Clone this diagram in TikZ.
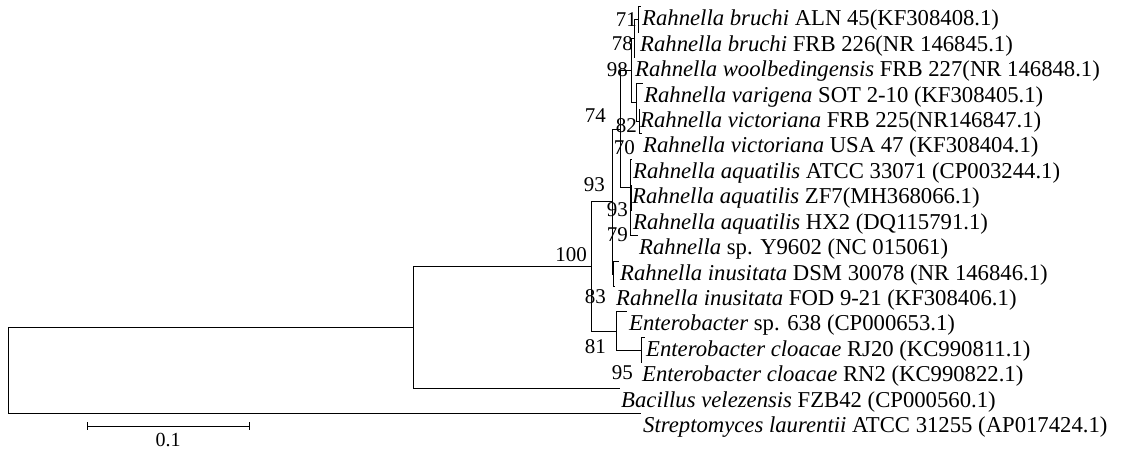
\documentclass[tikz,border=0pt]{standalone}
\usepackage{fontspec}
\setmainfont{Liberation Serif}
\begin{document}
\begin{tikzpicture}[x=1pt,y=-1pt,
  br/.style={line width=1pt},
  leaf/.style={anchor=base west,inner sep=0pt,font=\fontsize{22.7}{25}\selectfont},
  bs/.style={anchor=base east,inner sep=0pt,font=\fontsize{21}{23}\selectfont}]
\useasboundingbox (0,0) rectangle (1124,449);
% internal nodes
\coordinate (root) at (8,370.3);
\coordinate (X) at (413,327.2);
\coordinate (Y) at (591,266.3);
\coordinate (Z) at (612,201.6);
\coordinate (W) at (620,129.3);
\coordinate (n98) at (631,70.5);
\coordinate (n78) at (634,38.8);
\coordinate (n71) at (638,19.7);
\coordinate (nVar) at (636,102.3);
\coordinate (n82) at (639,121.3);
\coordinate (nP) at (630,188);
\coordinate (nQ) at (630.5,216.6);
\coordinate (nR) at (631,197.5);
\coordinate (nV) at (613.5,274);
\coordinate (E) at (616,331);
\coordinate (F) at (641,350);
% leaf line ends
\coordinate (e1) at (641,7);
\coordinate (e2) at (639,32.4);
\coordinate (e3) at (634,57.8);
\coordinate (e4) at (643,83.2);
\coordinate (e5) at (639,108.6);
\coordinate (e6) at (642,134);
\coordinate (e7) at (632,159.4);
\coordinate (e8) at (631,184.8);
\coordinate (e9) at (632,210.2);
\coordinate (e10) at (638,235.6);
\coordinate (e11) at (619,261);
\coordinate (e12) at (615,286.4);
\coordinate (e13) at (627,311.8);
\coordinate (e14) at (645,337.2);
\coordinate (e15) at (641,362.6);
\coordinate (e16) at (620,388);
\coordinate (e17) at (641,413.4);
% branches
\draw[br] (root) |- (X);
\draw[br] (root) |- (e17);
\draw[br] (X) |- (Y);
\draw[br] (X) |- (e16);
\draw[br] (Y) |- (Z);
\draw[br] (Y) |- (E);
\draw[br] (E) |- (e13);
\draw[br] (E) |- (F);
\draw[br] (F) |- (e14);
\draw[br] (F) |- (e15);
\draw[br] (Z) |- (W);
\draw[br] (Z) |- (nV);
\draw[br] (nV) |- (e11);
\draw[br] (nV) |- (e12);
\draw[br] (W) |- (n98);
\draw[br] (W) |- (nP);
\draw[br] (n98) |- (n78);
\draw[br] (n98) |- (nVar);
\draw[br] (n78) |- (n71);
\draw[br] (n78) |- (e3);
\draw[br] (n71) |- (e1);
\draw[br] (n71) |- (e2);
\draw[br] (nVar) |- (e4);
\draw[br] (nVar) |- (n82);
\draw[br] (n82) |- (e5);
\draw[br] (n82) |- (e6);
\draw[br] (nP) |- (e7);
\draw[br] (nP) |- (nQ);
\draw[br] (nQ) |- (nR);
\draw[br] (nQ) |- (e10);
\draw[br] (nR) |- (e8);
\draw[br] (nR) |- (e9);
% leaf labels
\node[leaf] (t1) at (642,26) {\textit{Rahnella bruchi} ALN 45(KF308408.1)};
\node[leaf] (t2) at (640,51.4) {\textit{Rahnella bruchi} FRB 226(NR 146845.1)};
\node[leaf] (t3) at (635,76.8) {\textit{Rahnella woolbedingensis} FRB 227(NR 146848.1)};
\node[leaf] (t4) at (644,102.2) {\textit{Rahnella varigena} SOT 2-10 (KF308405.1)};
\node[leaf] (t5) at (640,127.6) {\textit{Rahnella victoriana} FRB 225(NR146847.1)};
\node[leaf] (t6) at (643,153) {\textit{Rahnella victoriana} USA 47 (KF308404.1)};
\node[leaf] (t7) at (633,178.4) {\textit{Rahnella aquatilis} ATCC 33071 (CP003244.1)};
\node[leaf] (t8) at (632,203.8) {\textit{Rahnella aquatilis} ZF7(MH368066.1)};
\node[leaf] (t9) at (633,229.2) {\textit{Rahnella aquatilis} HX2 (DQ115791.1)};
\node[leaf] (t10) at (639,254.6) {\textit{Rahnella} sp. Y9602 (NC 015061)};
\node[leaf] (t11) at (620,280) {\textit{Rahnella inusitata} DSM 30078 (NR 146846.1)};
\node[leaf] (t12) at (616,305.4) {\textit{Rahnella inusitata} FOD 9-21 (KF308406.1)};
\node[leaf] (t13) at (629,330.8) {\textit{Enterobacter} sp. 638 (CP000653.1)};
\node[leaf] (t14) at (646,356.2) {\textit{Enterobacter cloacae} RJ20 (KC990811.1)};
\node[leaf] (t15) at (642,381.6) {\textit{Enterobacter cloacae} RN2 (KC990822.1)};
\node[leaf] (t16) at (621,407) {\textit{Bacillus velezensis} FZB42 (CP000560.1)};
\node[leaf] (t17) at (643,432.4) {\textit{Streptomyces laurentii} ATCC 31255 (AP017424.1)};
% bootstrap values
\node[bs] (b71) at (637,27) {71};
\node[bs] (b78) at (633,51) {78};
\node[bs] (b98) at (628,77) {98};
\node[bs] (b74) at (606,123) {74};
\node[bs] (b82) at (637,133) {82};
\node[bs] (b70) at (635,155) {70};
\node[bs] (b93a) at (605,192) {93};
\node[bs] (b93b) at (628,217) {93};
\node[bs] (b79) at (628,241) {79};
\node[bs] (b100) at (587,261) {100};
\node[bs] (b83) at (606,303) {83};
\node[bs] (b81) at (606,353) {81};
\node[bs] (b95) at (633,379) {95};
% scale bar
\coordinate (sb1) at (87,426);
\coordinate (sb2) at (249,426);
\draw[br] (sb1) -- (sb2);
\draw[br] ([yshift=4pt]sb1) -- ([yshift=-4pt]sb1);
\draw[br] ([yshift=4pt]sb2) -- ([yshift=-4pt]sb2);
\node[anchor=base,inner sep=0pt,font=\fontsize{20}{22}\selectfont] (sbl) at (168,446) {0.1};
\end{tikzpicture}
\end{document}
